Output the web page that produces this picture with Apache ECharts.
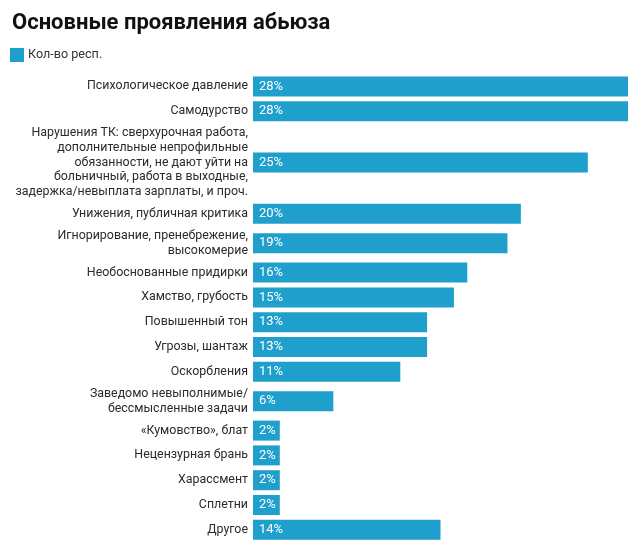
<!DOCTYPE html>
<html>
<head>
<meta charset="utf-8">
<script src="https://cdn.jsdelivr.net/npm/echarts@6/dist/echarts.min.js"></script>
<style>
  html, body { margin: 0; padding: 0; background: #fff; }
  #chart { width: 640px; height: 558px; }
</style>
</head>
<body>
<div id="chart"></div>
<script>
var categories = [
    'Психологическое давление',
    'Самодурство',
    'Нарушения ТК: сверхурочная работа,\nдополнительные непрофильные\nобязанности, не дают уйти на\nбольничный, работа в выходные,\nзадержка/невыплата зарплаты, и проч.',
    'Унижения, публичная критика',
    'Игнорирование, пренебрежение,\nвысокомерие',
    'Необоснованные придирки',
    'Хамство, грубость',
    'Повышенный тон',
    'Угрозы, шантаж',
    'Оскорбления',
    'Заведомо невыполнимые/\nбессмысленные задачи',
    '«Кумовство», блат',
    'Нецензурная брань',
    'Харассмент',
    'Сплетни',
    'Другое'
];
var values = [28, 28, 25, 20, 19, 16, 15, 13, 13, 11, 6, 2, 2, 2, 2, 14];
var seriesName = 'Кол-во респ.';

var lineH = 14.6;
var barH = 20;
var rowGap = 4.8;

// each row is as tall as its label (or the bar), plus a small gap
var centers = [];
var labelByKey = {};
var total = 0;
categories.forEach(function (c) {
    var lines = c.split('\n').length;
    var h = Math.max(barH, lines * lineH) + rowGap;
    var mid = total + h / 2;
    centers.push(mid);
    labelByKey[Math.round(mid * 10)] = c;
    total += h;
});

var data = values.map(function (v, i) {
    return [v, centers[i]];
});

var chart = echarts.init(document.getElementById('chart'));
chart.setOption({
    animation: false,
    textStyle: { fontFamily: 'Roboto' },
    title: {
        text: 'Основные проявления абьюза',
        left: 7,
        top: 7,
        textStyle: { fontSize: 22, fontWeight: 'bold', color: '#111', fontFamily: 'Roboto' }
    },
    legend: {
        left: 5,
        top: 43,
        icon: 'rect',
        itemWidth: 14,
        itemHeight: 14,
        itemGap: 6,
        data: [seriesName],
        textStyle: { fontSize: 12.6, color: '#333', fontFamily: 'Roboto', padding: [0, 0, 0, -1] }
    },
    grid: {
        left: 253,
        right: 12,
        top: 74,
        height: total,
        outerBoundsMode: 'none'
    },
    xAxis: {
        type: 'value',
        min: 0,
        max: 28,
        show: false
    },
    yAxis: {
        type: 'value',
        inverse: true,
        min: 0,
        max: total,
        axisLine: { show: false },
        axisTick: { show: false },
        splitLine: { show: false },
        axisLabel: {
            customValues: centers,
            margin: 5,
            fontSize: 12.4,
            lineHeight: lineH,
            color: '#2b2b2b',
            fontFamily: 'Roboto',
            align: 'right',
            formatter: function (v) {
                return labelByKey[Math.round(v * 10)] || '';
            }
        }
    },
    series: [{
        name: seriesName,
        type: 'custom',
        itemStyle: { color: '#1e9fcc' },
        encode: { x: 0, y: 1 },
        renderItem: function (params, api) {
            var v = api.value(0);
            var y = api.value(1);
            var p0 = api.coord([0, y]);
            var p1 = api.coord([v, y]);
            var h = api.size([0, barH])[1];
            return {
                type: 'group',
                children: [{
                    type: 'rect',
                    shape: { x: p0[0], y: p0[1] - h / 2, width: p1[0] - p0[0], height: h },
                    style: { fill: api.visual('color') }
                }, {
                    type: 'text',
                    x: p0[0] + 6,
                    y: p0[1],
                    style: {
                        text: v + '%',
                        fill: '#fff',
                        font: '13px Roboto',
                        verticalAlign: 'middle'
                    }
                }]
            };
        },
        data: data
    }]
});
</script>
</body>
</html>
